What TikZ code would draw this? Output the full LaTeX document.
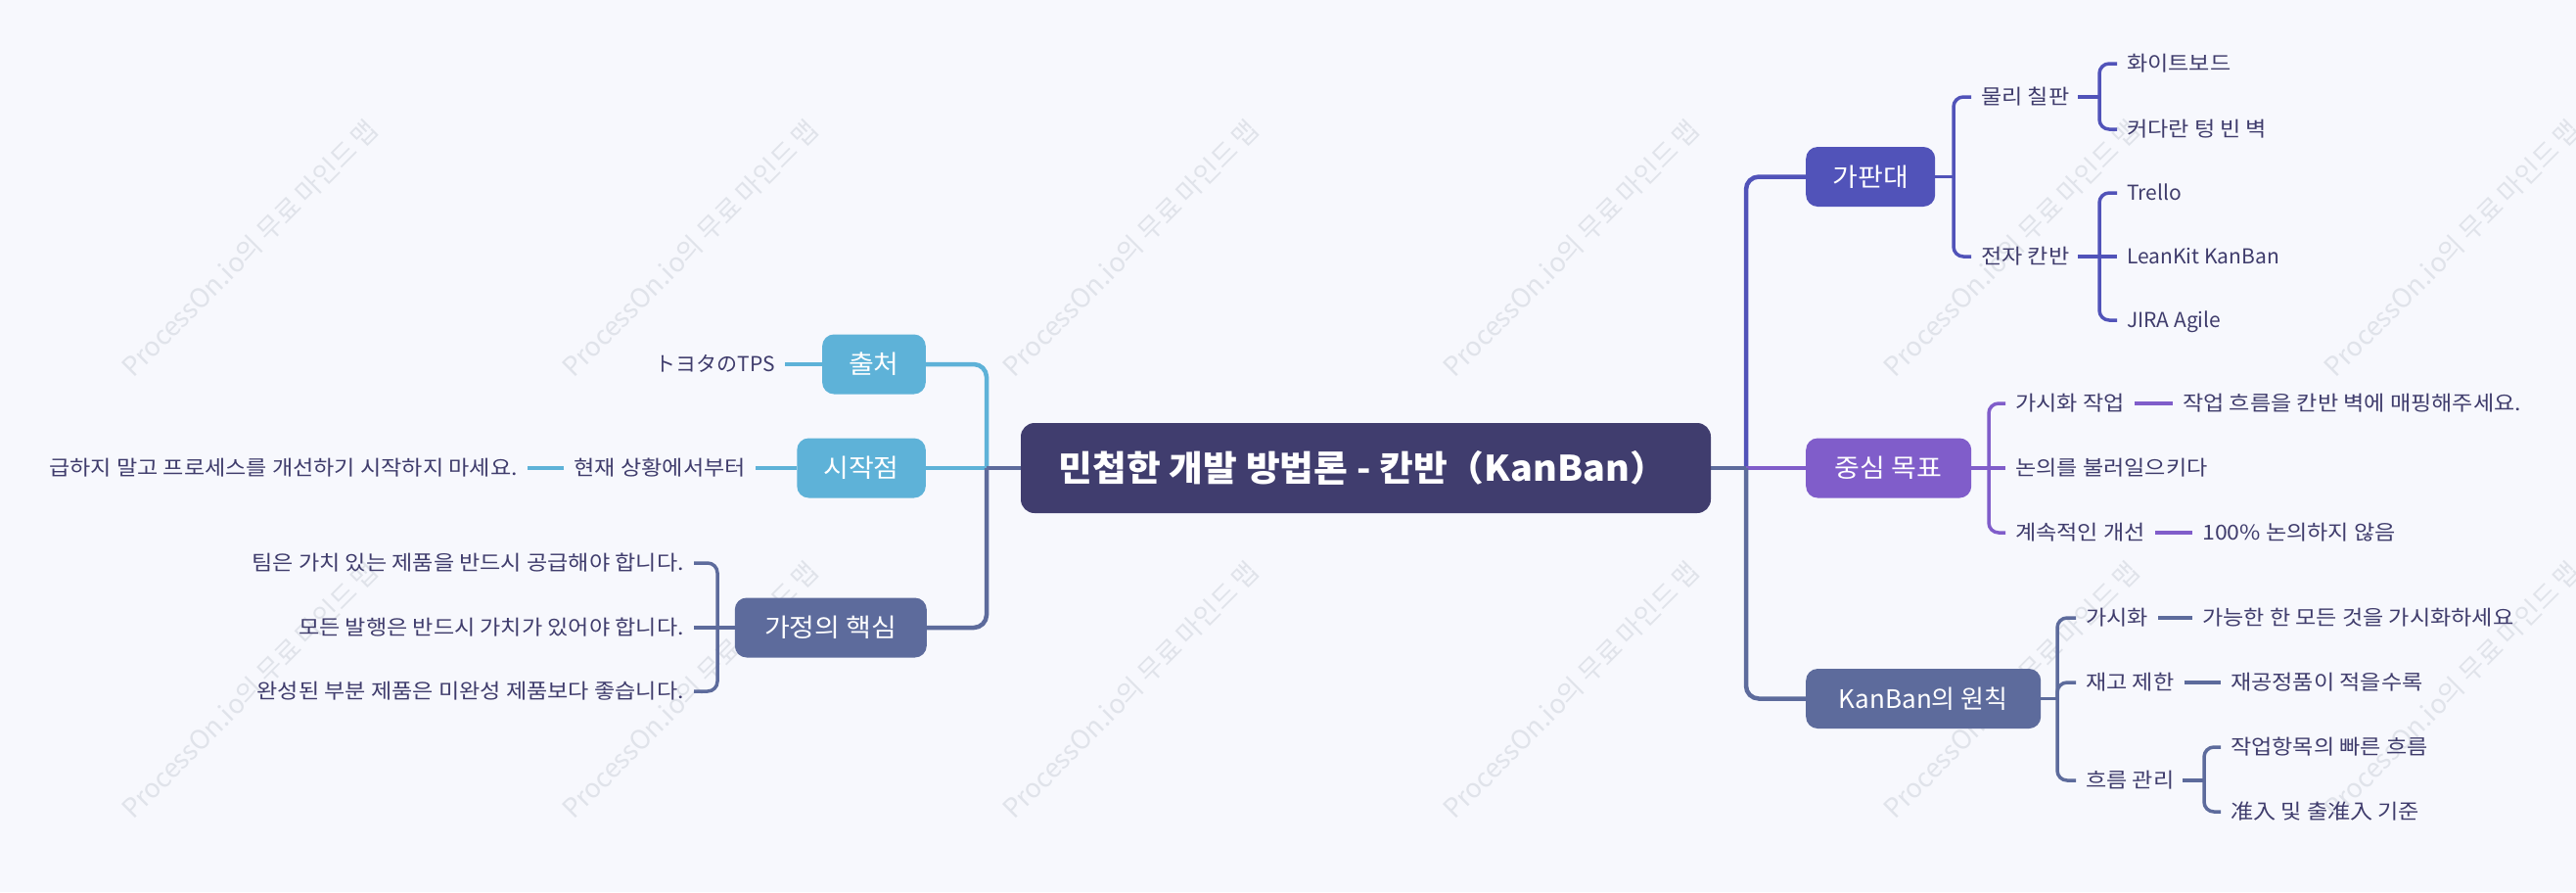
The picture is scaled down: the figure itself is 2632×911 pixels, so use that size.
\documentclass[tikz,border=0pt]{standalone}
\usepackage{fontspec}
\setmainfont{Noto Sans CJK KR}
\newfontfamily\hst[FakeStretch=1.1]{Noto Sans CJK KR}
\newfontfamily\hmst[FakeStretch=1.08]{Noto Sans CJK KR}
\newfontfamily\hrst[FakeStretch=1.05]{Noto Sans CJK KR}
\pgfdeclarelayer{bgfill}
\pgfdeclarelayer{background}
\pgfsetlayers{bgfill,background,main}
\definecolor{bgc}{HTML}{F7F8FD}
\definecolor{rootc}{HTML}{403D6E}
\definecolor{skyc}{HTML}{5EB2D8}
\definecolor{indc}{HTML}{5153B9}
\definecolor{purc}{HTML}{805DCA}
\definecolor{slatec}{HTML}{5D6B9C}
\definecolor{txtc}{HTML}{3F3C6C}
\definecolor{wmc}{HTML}{E0E3EA}
\tikzset{
  rootbox/.style={rounded corners=14pt, fill=rootc, text=white, minimum width=705pt, minimum height=92pt,
    font=\hrst\fontsize{36}{40}\selectfont\bfseries, text height=28.6pt, text depth=2pt, inner sep=0pt},
  mainbox/.style={rounded corners=12pt, text=white, minimum height=61pt, inner xsep=27pt, inner ysep=0pt,
    font=\hmst\fontsize{26}{30}\selectfont, text height=21.2pt, text depth=2pt},
  mainboxl/.style={mainbox, font=\fontsize{26}{30}\selectfont},
  leaf/.style={text=txtc, inner xsep=10pt, inner ysep=0pt, font=\hst\fontsize{21}{24}\selectfont,
    text height=17.6pt, text depth=2pt},
  leafl/.style={leaf, font=\fontsize{21}{24}\selectfont},
  mainln/.style={line width=4.5pt},
  subln/.style={line width=3.5pt},
  stub/.style={line width=3.5pt, line cap=rect},
  wm/.style={rotate=45, anchor=base west, text=wmc, font=\fontsize{27}{30}\selectfont, inner sep=0pt},
}
\begin{document}
\begin{tikzpicture}[x=1pt,y=-1pt]
\path[use as bounding box] (0,0) rectangle (2632,911);
\begin{pgfonlayer}{bgfill}
\fill[bgc] (0,0) rectangle (2632,911);
\foreach \xx [count=\i] in {136,586,1036,1486,1936,2386}{
  \node[wm] (wma\i) at (\xx,387) {ProcessOn.io의 무료 마인드 맵};
  \node[wm] (wmb\i) at (\xx,838) {ProcessOn.io의 무료 마인드 맵};
}
\end{pgfonlayer}

% root
\node[rootbox] (root) at (1395.5,478) {민첩한 개발 방법론 - 칸반（KanBan）\kern6pt};
\coordinate (jR) at (1784,478);
\coordinate (jL) at (1008,478);

% right main branches
\node[mainbox, fill=indc, anchor=west, minimum width=132pt] (gapan) at (1845,180.5) {가판대};
\node[mainbox, fill=purc, anchor=west, minimum width=169pt] (goal) at (1845,478) {중심 목표};
\node[mainboxl, fill=slatec, anchor=west, minimum width=240pt] (princ) at (1845,713.5) {KanBan의 원칙};

% left main branches
\node[mainbox, fill=skyc, anchor=east, minimum width=104pt] (chuch) at (946,372) {출처};
\node[mainbox, fill=skyc, anchor=east, minimum width=131pt] (start) at (946,478) {시작점};
\node[mainbox, fill=slatec, anchor=east, minimum width=196pt] (core) at (947,641) {가정의 핵심};

% gapan subtree
\coordinate (bG) at (1996,180.5);
\node[leaf, anchor=west] (phys) at (2014,99) {물리 칠판};
\node[leaf, anchor=west] (elec) at (2014,262) {전자 칸반};
\coordinate (bP) at (2145,99);
\coordinate (bE) at (2145,262);
\node[leaf, anchor=west] (wb) at (2163,65) {화이트보드};
\node[leaf, anchor=west] (wall) at (2163,132) {커다란 텅 빈 벽};
\node[leafl, anchor=west] (trello) at (2163,197) {Trello};
\node[leafl, anchor=west] (leankit) at (2163,262) {LeanKit KanBan};
\node[leafl, anchor=west] (jira) at (2163,327) {JIRA Agile};

% goal subtree
\coordinate (bGo) at (2032,478);
\node[leaf, anchor=west] (vis) at (2049,412) {가시화 작업};
\node[leaf, anchor=west] (disc) at (2049,478) {논의를 불러일으키다};
\node[leaf, anchor=west] (cont) at (2049,544) {계속적인 개선};
\node[leaf, anchor=west] (visx) at (2220,412) {작업 흐름을 칸반 벽에 매핑해주세요.};
\node[leaf, anchor=west] (contx) at (2240,544) {100\% 논의하지 않음};

% principle subtree
\coordinate (bPr) at (2102,713.5);
\node[leaf, anchor=west] (pv) at (2121,631) {가시화};
\node[leaf, anchor=west] (inv) at (2121,697) {재고 제한};
\node[leaf, anchor=west] (flow) at (2121,797) {흐름 관리};
\node[leaf, anchor=west] (pvx) at (2240,631) {가능한 한 모든 것을 가시화하세요};
\node[leaf, anchor=west] (invx) at (2269,697) {재공정품이 적을수록};
\coordinate (bF) at (2252,797);
\node[leaf, anchor=west] (fast) at (2269,763) {작업항목의 빠른 흐름};
\node[leaf, anchor=west] (entry) at (2269,829) {准入 및 출准入 기준};

% left leaves
\node[leafl, anchor=east] (toyota) at (802,372) {トヨタのTPS};
\node[leaf, anchor=east] (now) at (772,478) {현재 상황에서부터};
\node[leaf, anchor=east] (hurry) at (539,478) {급하지 말고 프로세스를 개선하기 시작하지 마세요.};
\coordinate (bC) at (733,641);
\node[leaf, anchor=east] (team) at (709,575) {팀은 가치 있는 제품을 반드시 공급해야 합니다.};
\node[leaf, anchor=east] (rel) at (709,641) {모든 발행은 반드시 가치가 있어야 합니다.};
\node[leaf, anchor=east] (part) at (709,706) {완성된 부분 제품은 미완성 제품보다 좋습니다.};

\begin{pgfonlayer}{background}
% right main connectors
\draw[mainln, indc] (root.east) -- (jR);
\draw[mainln, indc, rounded corners=13pt] (jR) |- (gapan.west);
\draw[mainln, purc] (root.east) -- (goal.west);
\draw[mainln, slatec] (root.east) -- (jR);
\draw[mainln, slatec, rounded corners=13pt] (jR) |- (princ.west);
% left main connectors
\draw[mainln, skyc] (root.west) -- (jL);
\draw[mainln, skyc, rounded corners=13pt] (jL) |- (chuch.east);
\draw[mainln, skyc] (root.west) -- (start.east);
\draw[mainln, slatec] (root.west) -- (jL);
\draw[mainln, slatec, rounded corners=13pt] (jL) |- (core.east);

% gapan
\draw[stub, indc] (gapan.east) -- (bG);
\draw[subln, indc, rounded corners=10pt] (bG) |- (phys.west);
\draw[subln, indc, rounded corners=10pt] (bG) |- (elec.west);
\draw[stub, indc] (phys.east) -- (bP);
\draw[subln, indc, rounded corners=10pt] (bP) |- (wb.west);
\draw[subln, indc, rounded corners=10pt] (bP) |- (wall.west);
\draw[stub, indc] (elec.east) -- (bE);
\draw[subln, indc, rounded corners=10pt] (bE) |- (trello.west);
\draw[subln, indc] (bE) -- (leankit.west);
\draw[subln, indc, rounded corners=10pt] (bE) |- (jira.west);

% goal
\draw[stub, purc] (goal.east) -- (bGo);
\draw[subln, purc, rounded corners=10pt] (bGo) |- (vis.west);
\draw[subln, purc] (bGo) -- (disc.west);
\draw[subln, purc, rounded corners=10pt] (bGo) |- (cont.west);
\draw[subln, purc] (vis.east) -- (visx.west);
\draw[subln, purc] (cont.east) -- (contx.west);

% principles
\draw[stub, slatec] (princ.east) -- (bPr);
\draw[subln, slatec, rounded corners=10pt] (bPr) |- (pv.west);
\draw[subln, slatec, rounded corners=10pt] (bPr) |- (inv.west);
\draw[subln, slatec, rounded corners=10pt] (bPr) |- (flow.west);
\draw[subln, slatec] (pv.east) -- (pvx.west);
\draw[subln, slatec] (inv.east) -- (invx.west);
\draw[stub, slatec] (flow.east) -- (bF);
\draw[subln, slatec, rounded corners=10pt] (bF) |- (fast.west);
\draw[subln, slatec, rounded corners=10pt] (bF) |- (entry.west);

% left subtrees
\draw[subln, skyc] (chuch.west) -- (toyota.east);
\draw[subln, skyc] (start.west) -- (now.east);
\draw[subln, skyc] (now.west) -- (hurry.east);
\draw[stub, slatec] (core.west) -- (bC);
\draw[subln, slatec, rounded corners=10pt] (bC) |- (team.east);
\draw[subln, slatec] (bC) -- (rel.east);
\draw[subln, slatec, rounded corners=10pt] (bC) |- (part.east);
\end{pgfonlayer}
\end{tikzpicture}
\end{document}
